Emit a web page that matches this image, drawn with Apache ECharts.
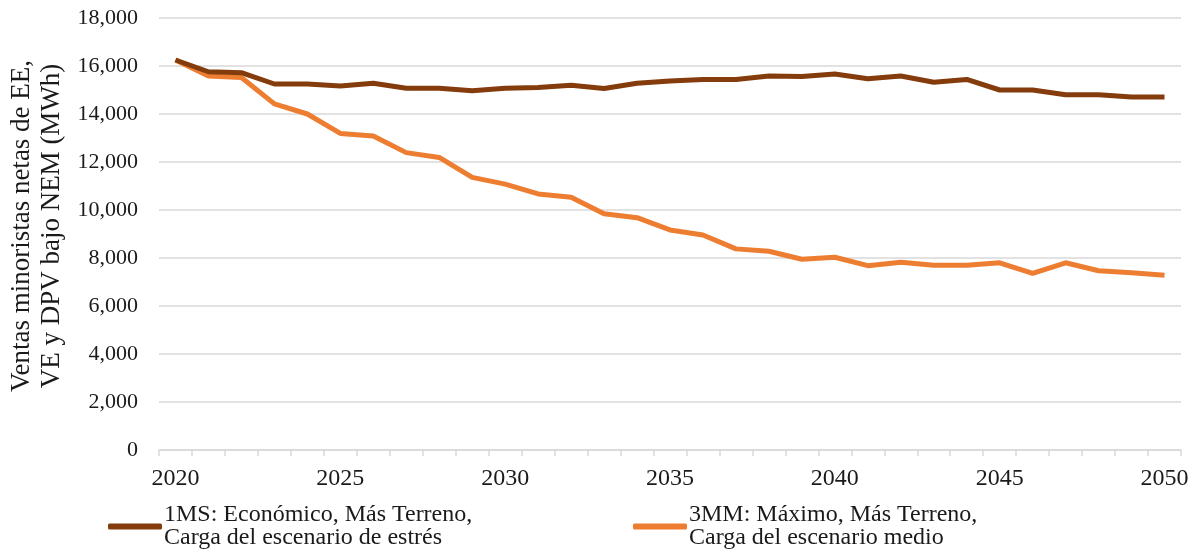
<!DOCTYPE html>
<html>
<head>
<meta charset="utf-8">
<script src="https://cdn.jsdelivr.net/npm/echarts@6/dist/echarts.min.js"></script>
<style>
  html, body { margin: 0; padding: 0; background: #fff; }
  #chart { width: 1197px; height: 553px; }
</style>
</head>
<body>
<div id="chart"></div>
<script>
var years = [];
for (var y = 2020; y <= 2050; y++) { years.push(String(y)); }

// 1MS: Económico, Más Terreno, Carga del escenario de estrés
var seriesMS = [16250, 15760, 15720, 15250, 15250, 15170, 15280, 15070, 15070, 14970,
                15070, 15100, 15200, 15060, 15280, 15375, 15440, 15440, 15580, 15560,
                15670, 15470, 15580, 15320, 15440, 15000, 15000, 14800, 14800, 14710, 14710];
// 3MM: Máximo, Más Terreno, Carga del escenario medio
var seriesMM = [16250, 15580, 15520, 14420, 14000, 13190, 13080, 12390, 12190, 11360,
                11080, 10670, 10530, 9840, 9680, 9170, 8960, 8380, 8280, 7950,
                8030, 7680, 7820, 7700, 7700, 7800, 7360, 7800, 7470, 7390, 7280];

var nameMS = '1MS: Económico, Más Terreno,\nCarga del escenario de estrés';
var nameMM = '3MM: Máximo, Más Terreno,\nCarga del escenario medio';

var font = '"Liberation Serif", "Times New Roman", serif';
var textColor = '#1a1a1a';

var myChart = echarts.init(document.getElementById('chart'));
var legendBase = {
    orient: 'horizontal',
    top: 503,
    itemWidth: 54,
    itemHeight: 6,
    itemGap: 0,
    icon: 'roundRect',
    padding: 0,
    textStyle: { fontFamily: font, fontSize: 24, color: textColor, lineHeight: 23, padding: [0, 0, 0, -3] }
};
var option = {
    backgroundColor: '#fff',
    animation: false,
    grid: { left: 159, right: 16, top: 18, bottom: 103, containLabel: false, outerBoundsMode: 'none' },
    legend: [
        Object.assign({}, legendBase, { left: 108, data: [nameMS] }),
        Object.assign({}, legendBase, { left: 633, data: [nameMM] })
    ],
    xAxis: {
        type: 'category',
        data: years,
        boundaryGap: true,
        axisLine: { lineStyle: { color: '#d9d9d9', width: 1.5 } },
        axisTick: { show: true, length: 6, alignWithLabel: false, interval: 0, lineStyle: { color: '#d9d9d9', width: 1.5 } },
        axisLabel: { interval: 4, margin: 17, fontFamily: font, fontSize: 24, color: textColor }
    },
    yAxis: {
        type: 'value',
        min: 0,
        max: 18000,
        interval: 2000,
        name: 'Ventas minoristas netas de EE,\nVE y DPV bajo NEM (MWh)',
        nameLocation: 'middle',
        nameRotate: 90,
        nameGap: 77,
        nameTextStyle: { fontFamily: font, fontSize: 27, color: textColor, lineHeight: 30, padding: [0, 0, 0, 16] },
        axisLine: { show: false },
        axisTick: { show: false },
        splitLine: { lineStyle: { color: '#d9d9d9', width: 1.5 } },
        axisLabel: {
            margin: 21,
            fontFamily: font,
            fontSize: 22,
            color: textColor,
            formatter: function (v) { return v.toLocaleString('en-US'); }
        }
    },
    series: [
        {
            name: nameMS,
            type: 'line',
            data: seriesMS,
            symbol: 'none',
            color: '#843c0c',
            lineStyle: { width: 5, color: '#843c0c' },
            z: 3
        },
        {
            name: nameMM,
            type: 'line',
            data: seriesMM,
            symbol: 'none',
            color: '#ed7d31',
            lineStyle: { width: 5, color: '#ed7d31' },
            z: 2
        }
    ]
};
myChart.setOption(option);
</script>
</body>
</html>
